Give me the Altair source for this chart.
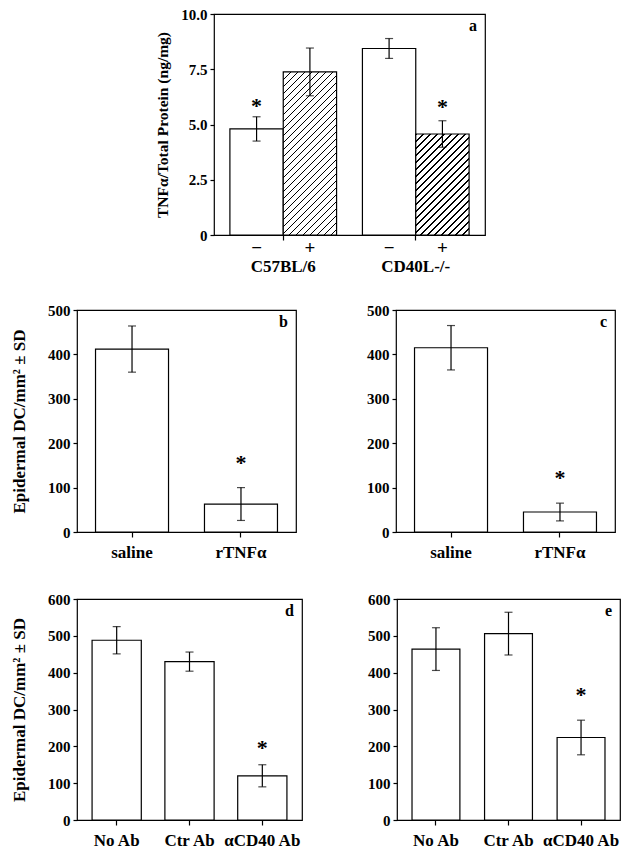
import altair as alt
import pandas as pd

FONT = "Liberation Serif"

# ---------------- data ----------------
# panel a
a_groups = ["C57BL/6", "C57BL/6", "CD40L-/-", "CD40L-/-"]
a_treat = ["−", "+", "−", "+"]
a_values = [4.80, 7.38, 8.44, 4.57]
a_sd = [0.55, 1.08, 0.45, 0.60]
a_hatched = [False, True, False, True]
a_star = [6.05, None, None, 6.0]

# panels b, c
bc_cats = ["saline", "rTNFα"]
b_values = [412, 63]
b_sd = [52, 37]
b_star = [None, 167]
c_values = [415, 45]
c_sd = [50, 20]
c_star = [None, 132]

# panels d, e
de_cats = ["No Ab", "Ctr Ab", "αCD40 Ab"]
d_values = [488, 430, 120]
d_sd = [37, 26, 30]
d_star = [None, None, 208]
e_values = [464, 506, 224]
e_sd = [58, 58, 47]
e_star = [None, None, 353]

YTITLE = "Epidermal DC/mm² ± SD"


def hatch_gradient(w, h, period=7.0, line=1.7):
    L = w + h
    stops = []
    i = 0
    while i * period < L:
        o0 = i * period / L
        o1 = min((i * period + line) / L, 1.0)
        o2 = min((i + 1) * period / L, 1.0)
        stops += [(o0, "black"), (o1, "black"), (o1, "white"), (o2, "white")]
        i += 1
    x2 = (w + h) * w / (w * w + h * h)
    y2 = (w + h) * h / (w * w + h * h)
    return alt.LinearGradient(
        gradient="linear", x1=0, y1=0, x2=round(x2, 5), y2=round(y2, 5),
        stops=[alt.GradientStop(offset=round(o, 5), color=c) for o, c in stops],
    )


def letter_layer(letter, W):
    return alt.Chart(pd.DataFrame({"t": [letter]})).mark_text(
        font=FONT, fontSize=16, fontWeight="bold", align="right", baseline="middle"
    ).encode(text="t:N", x=alt.value(W - 8), y=alt.value(12))


def panel(cats, vals, sds, stars, letter, W, H, ymax, pin, pout, ytitle):
    df = pd.DataFrame({
        "cat": cats, "val": vals,
        "lo": [v - s for v, s in zip(vals, sds)],
        "hi": [v + s for v, s in zip(vals, sds)],
        "star": stars,
    })
    base = alt.Chart(df)
    x = alt.X("cat:N", sort=cats,
              scale=alt.Scale(paddingInner=pin, paddingOuter=pout),
              axis=alt.Axis(title=None, labelAngle=0, labelFontSize=17,
                            labelPadding=7, tickSize=5))
    ticks = list(range(0, ymax + 1, 100))
    ykw = dict(values=ticks, tickCount=len(ticks), labelFontSize=15,
               tickSize=4, labelPadding=3)
    if ytitle:
        yaxis = alt.Axis(title=ytitle, titleFontSize=17, titlePadding=19, **ykw)
    else:
        yaxis = alt.Axis(title=None, **ykw)
    yscale = alt.Scale(domain=[0, ymax], nice=False)
    xs = alt.X("cat:N", sort=cats)
    bars = base.mark_bar(fill="white", stroke="black", strokeWidth=1.2).encode(
        x=x, y=alt.Y("val:Q", scale=yscale, axis=yaxis))
    err = base.mark_rule(color="black", strokeWidth=1.2).encode(
        x=xs, y="lo:Q", y2="hi:Q")
    cap_lo = base.mark_tick(color="black", size=8, thickness=1.2).encode(x=xs, y="lo:Q")
    cap_hi = base.mark_tick(color="black", size=8, thickness=1.2).encode(x=xs, y="hi:Q")
    star = base.transform_filter("isValid(datum.star)").mark_text(
        text="*", font=FONT, fontSize=22, fontWeight="bold", baseline="middle", dy=5
    ).encode(x=xs, y="star:Q")
    return alt.layer(bars, err, cap_lo, cap_hi, star, letter_layer(letter, W)).properties(
        width=W, height=H)


def panel_a(W, H):
    df = pd.DataFrame({
        "id": list(range(len(a_values))),
        "group": a_groups, "treat": a_treat, "val": a_values,
        "lo": [v - s for v, s in zip(a_values, a_sd)],
        "hi": [v + s for v, s in zip(a_values, a_sd)],
        "hatched": a_hatched, "star": a_star,
    })
    base = alt.Chart(df)
    gorder = ["C57BL/6", "CD40L-/-"]
    torder = ["−", "+"]
    pin, pout = 0.195, 0.12
    x = alt.X("group:N", sort=gorder,
              scale=alt.Scale(paddingInner=pin, paddingOuter=pout),
              axis=alt.Axis(title=None, labelAngle=0, labelFontSize=17,
                            labelPadding=18, tickSize=5))
    xs = alt.X("group:N", sort=gorder)
    xo = alt.XOffset("treat:N", sort=torder,
                     scale=alt.Scale(paddingInner=0, paddingOuter=0))
    yvals = [0, 2.5, 5, 7.5, 10]
    y = alt.Y("val:Q", scale=alt.Scale(domain=[0, 10], nice=False),
              axis=alt.Axis(title="TNFα/Total Protein (ng/mg)", titleFontSize=15.5,
                            titlePadding=10, values=yvals, tickCount=len(yvals),
                            labelExpr="datum.value == 0 ? '0' : format(datum.value, '.1f')",
                            labelFontSize=15, tickSize=4, labelPadding=3))
    step = W / (2 - pin + 2 * pout)
    barw = step * (1 - pin) / 2
    layers = [base.transform_filter("!datum.hatched").mark_bar(
        fill="white", stroke="black", strokeWidth=1.2).encode(x=x, xOffset=xo, y=y)]
    for i, (v, h) in enumerate(zip(a_values, a_hatched)):
        if not h:
            continue
        grad = hatch_gradient(barw, v / 10 * H)
        layers.append(base.transform_filter(f"datum.id == {i}").mark_bar(
            fill=grad, stroke="black", strokeWidth=1.2).encode(x=xs, xOffset=xo, y="val:Q"))
    layers.append(base.mark_rule(color="black", strokeWidth=1.2).encode(
        x=xs, xOffset=xo, y="lo:Q", y2="hi:Q"))
    layers.append(base.mark_tick(color="black", size=8, thickness=1.2).encode(
        x=xs, xOffset=xo, y="lo:Q"))
    layers.append(base.mark_tick(color="black", size=8, thickness=1.2).encode(
        x=xs, xOffset=xo, y="hi:Q"))
    layers.append(base.transform_filter("isValid(datum.star)").mark_text(
        text="*", font=FONT, fontSize=22, fontWeight="bold", baseline="middle", dy=5
    ).encode(x=xs, xOffset=xo, y="star:Q"))
    layers.append(base.mark_text(font=FONT, fontSize=19, fontWeight="bold",
                                 baseline="middle").encode(
        x=xs, xOffset=xo, text="treat:N", y=alt.value(H + 13)))
    layers.append(letter_layer("a", W))
    return alt.layer(*layers).properties(width=W, height=H)


pa = panel_a(271, 221)
pb = panel(bc_cats, b_values, b_sd, b_star, "b", 219, 222, 500, 0.33, 0.17, YTITLE)
pc = panel(bc_cats, c_values, c_sd, c_star, "c", 219, 222, 500, 0.33, 0.17, None)
pd_ = panel(de_cats, d_values, d_sd, d_star, "d", 225, 221, 600, 0.324, 0.207, YTITLE)
pe = panel(de_cats, e_values, e_sd, e_star, "e", 223, 221, 600, 0.34, 0.207, None)

spacer = alt.Chart(pd.DataFrame({"v": [0]})).mark_point(opacity=0).encode(
    x=alt.X("v:Q", axis=None), y=alt.Y("v:Q", axis=None)
).properties(width=1, height=1, view=alt.ViewBackground(stroke="transparent"))

top = alt.hconcat(spacer, pa, spacing=136, bounds="flush")
row2 = alt.hconcat(pb, pc, spacing=100, bounds="flush")
row3 = alt.hconcat(pd_, pe, spacing=95, bounds="flush")
lower = alt.vconcat(row2, row3, spacing=30)

chart = alt.vconcat(top, lower, spacing=27).properties(
    padding={"left": 1, "top": -2, "right": 0, "bottom": 0}
).configure_view(stroke="black", strokeWidth=1.2).configure_axis(
    labelFont=FONT, labelFontWeight="bold", labelColor="black",
    titleFont=FONT, titleFontWeight="bold", titleColor="black",
    tickColor="black", tickWidth=1.2, domain=False, grid=False,
)

chart.save("out.html", embed_options={"renderer": "svg", "actions": False})
